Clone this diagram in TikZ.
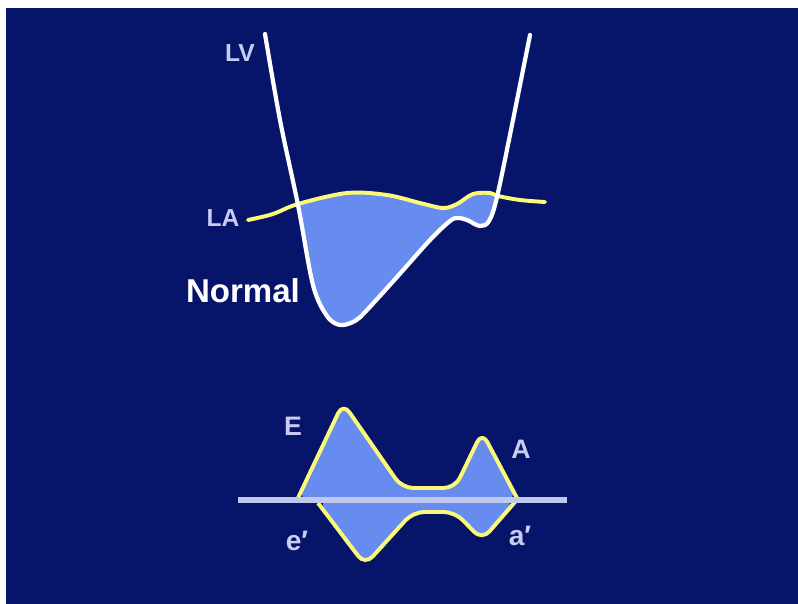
\documentclass[tikz,border=0pt]{standalone}
\usepackage{fontspec}
\setmainfont{Liberation Sans}
\usetikzlibrary{arrows}
\usetikzlibrary{scopes}

\definecolor{bgblue}{RGB}{6,20,105}
\definecolor{fillblue}{RGB}{102,140,240}
\definecolor{layellow}{RGB}{250,250,120}
\definecolor{labelcol}{RGB}{200,204,240}
\definecolor{basecol}{RGB}{190,200,240}

\tikzset{
	lbl/.style={text=labelcol, font=\bfseries\fontsize{17.5}{18}\selectfont, inner sep=0pt},
	lvline/.style={draw=white, line width=3pt, line cap=round},
	laline/.style={draw=layellow, line width=2.8pt, line cap=round},
	wave/.style={draw=layellow, line width=2.8pt, rounded corners=8pt, line join=round}
}

\begin{document}
\begin{tikzpicture}[x=0.025cm, y=-0.025cm]
			\useasboundingbox (0,0) rectangle (798,604);
			\fill[white] (0,0) rectangle (798,604);
			\fill[bgblue] (6,8) rectangle (798,604);
			%% Pressure curves
			{ [every path/.style={}]
				\begin{scope}
					\clip plot[smooth, tension=0.55] coordinates {(265,34) (280,120) (298,205) (313,285) (327,316) (340,325) (355,321) (367,310) (397,277) (430,240) (450,221) (458,218) (467,220) (480,226) (489,221) (497,197) (513,120) (530,35)} -- (530,0) -- (265,0) -- cycle;
					\fill[fillblue] plot[smooth, tension=0.55] coordinates {(248,220) (273,214) (298,204) (347,193) (387,195) (420,203) (443,208) (457,204) (473,194) (490,193) (498,196) (520,200) (545,202)} -- (545,400) -- (248,400) -- cycle;
				\end{scope}
			}
			\draw[laline] plot[smooth, tension=0.55] coordinates {(248,220) (273,214) (298,204) (347,193) (387,195) (420,203) (443,208) (457,204) (473,194) (490,193) (498,196) (520,200) (545,202)};
			\draw[lvline] plot[smooth, tension=0.55] coordinates {(265,34) (280,120) (298,205) (313,285) (327,316) (340,325) (355,321) (367,310) (397,277) (430,240) (450,221) (458,218) (467,220) (480,226) (489,221) (497,197) (513,120) (530,35)};
			\node[lbl] (lv) at (240,53) {LV};
			\node[lbl] (la) at (223,218) {LA};
			\node[text=white, font=\bfseries\fontsize{23.5}{24}\selectfont, inner sep=0pt] (normal) at (243,291) {Normal};
			%% Doppler waves
			\fill[fillblue, rounded corners=8pt] (298,500) -- (343,403) -- (402,488) -- (455,488) -- (482,432) -- (517,500) -- cycle;
			\fill[fillblue, rounded corners=8pt] (318,500) -- (365,565) -- (413,512) -- (455,512) -- (482,540) -- (515,500) -- cycle;
			\draw[wave] (298,498) -- (343,403) -- (402,488) -- (455,488) -- (482,432) -- (517,498);
			\draw[wave] (318,503) -- (365,565) -- (413,512) -- (455,512) -- (482,540) -- (515,502);
			\coordinate (base-l) at (238,500);
			\coordinate (base-r) at (567,500);
			\draw[basecol, line width=4.5pt] (base-l) -- (base-r);
			\node[lbl, font=\bfseries\fontsize{19}{20}\selectfont] (e-peak) at (293,426) {E};
			\node[lbl, font=\bfseries\fontsize{19}{20}\selectfont] (a-peak) at (521,449) {A};
			\node[lbl, font=\bfseries\fontsize{20}{21}\selectfont] (e-tissue) at (297,541) {e′};
			\node[lbl, font=\bfseries\fontsize{20}{21}\selectfont] (a-tissue) at (520,536) {a′};
		\end{tikzpicture}
\end{document}
